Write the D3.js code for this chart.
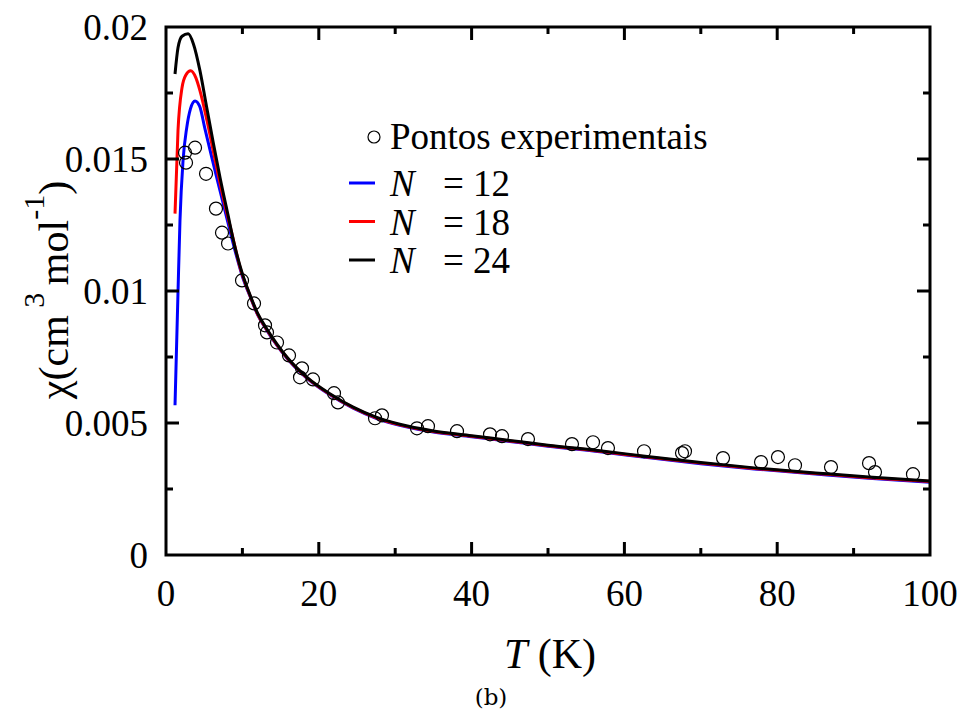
<!DOCTYPE html>
<html>
<head>
<meta charset="utf-8">
<script src="https://cdn.jsdelivr.net/npm/d3@7"></script>
<style>
  body { margin: 0; background: #fff; }
  svg text { font-family: "Liberation Serif", "Times New Roman", Times, serif; fill: #000; }
</style>
</head>
<body>
<svg id="chart" width="961" height="717"></svg>
<script>
// experimental points (T in K, chi in cm3/mol)
var expT = [2.49, 3.80, 2.62, 5.24, 6.54, 7.33, 8.12, 9.95, 11.52, 12.96, 13.22, 14.53, 16.10, 17.80, 17.54, 19.24,
  21.99, 22.51, 27.36, 28.27, 32.85, 34.29, 38.09, 42.41, 43.98, 47.38, 53.14, 55.89, 57.85, 62.57, 67.54, 67.93,
  72.91, 77.88, 80.10, 82.33, 87.04, 92.02, 92.80, 97.77];
var expChi = [0.01524, 0.01543, 0.01486, 0.01444, 0.01312, 0.01221, 0.01180, 0.01040, 0.00953, 0.00870, 0.00843,
  0.00805, 0.00756, 0.00707, 0.00673, 0.00665, 0.00613, 0.00578, 0.00518, 0.00529, 0.00480, 0.00488, 0.00469,
  0.00457, 0.00450, 0.00439, 0.00420, 0.00427, 0.00405, 0.00393, 0.00386, 0.00393, 0.00367, 0.00352, 0.00371,
  0.00340, 0.00333, 0.00348, 0.00314, 0.00306];

// model curves, N = 12 / 18 / 24
var T12 = [1.18, 1.57, 1.83, 2.23, 2.71, 3.2, 3.8, 4.4, 5.1, 6.0, 7.07, 8.1, 9.25, 10.0, 11.0, 12.0, 13.22, 14.5, 15.84, 18.46, 21.5, 24.5, 27.5, 30.6, 35, 40, 45, 50, 56.8, 63, 70, 77, 85, 92, 100];
var chi12 = [0.00567, 0.00994, 0.01267, 0.01494, 0.01618, 0.01690, 0.01720, 0.01700, 0.01614, 0.01505, 0.01380, 0.01260, 0.01130, 0.01055, 0.00980, 0.00910, 0.00850, 0.00795, 0.00745, 0.00669, 0.00606, 0.00556, 0.00518, 0.00491, 0.00466, 0.00448, 0.00430, 0.00412, 0.00391, 0.00369, 0.00346, 0.00326, 0.00307, 0.00291, 0.00276];
var T18 = [1.18, 1.57, 2.09, 2.6, 3.23, 3.9, 4.45, 5.37, 6.4, 7.6, 8.6, 9.69, 11.0, 12.0, 13.22, 14.5, 15.84, 18.46, 21.5, 24.5, 27.5, 30.6, 35, 40, 45, 50, 56.8, 63, 70, 77, 85, 92, 100];
var chi18 = [0.01293, 0.01607, 0.01769, 0.01818, 0.01834, 0.01808, 0.01758, 0.01645, 0.01500, 0.01340, 0.01220, 0.01090, 0.00982, 0.00912, 0.00852, 0.00797, 0.00747, 0.00671, 0.00608, 0.00558, 0.00520, 0.00493, 0.00468, 0.00450, 0.00432, 0.00414, 0.00393, 0.00371, 0.00348, 0.00328, 0.00309, 0.00293, 0.00278];
var T24 = [1.18, 1.57, 2.1, 2.9, 3.6, 4.45, 5.3, 6.2, 7.07, 8.1, 9.0, 10.0, 11.0, 12.0, 13.22, 14.5, 15.84, 18.46, 21.5, 24.5, 27.5, 30.6, 35, 40, 45, 50, 56.8, 63, 70, 77, 85, 92, 100];
var chi24 = [0.01822, 0.01921, 0.01965, 0.01974, 0.01935, 0.01834, 0.01700, 0.01560, 0.01430, 0.01290, 0.01170, 0.01065, 0.00985, 0.00915, 0.00855, 0.00800, 0.00749, 0.00673, 0.00610, 0.00560, 0.00522, 0.00495, 0.00470, 0.00452, 0.00434, 0.00416, 0.00395, 0.00373, 0.00350, 0.00330, 0.00311, 0.00295, 0.00280];

var seriesNames = ["12", "18", "24"];
var seriesColors = ["#0000ff", "#ff0000", "#000000"];
var xTicks = [0, 20, 40, 60, 80, 100];
var xMinor = [10, 30, 50, 70, 90];
var yTicks = [0, 0.005, 0.01, 0.015, 0.02];
var yTickLabels = ["0", "0.005", "0.01", "0.015", "0.02"];
var yMinor = [0.0025, 0.0075, 0.0125, 0.0175];

var svg = d3.select("#chart");
var x = d3.scaleLinear().domain([0, 100]).range([166, 930]);
var y = d3.scaleLinear().domain([0, 0.02]).range([555, 27]);

var series = [
  { name: seriesNames[0], color: seriesColors[0], pts: d3.zip(T12, chi12) },
  { name: seriesNames[1], color: seriesColors[1], pts: d3.zip(T18, chi18) },
  { name: seriesNames[2], color: seriesColors[2], pts: d3.zip(T24, chi24) }
];

var line = d3.line()
  .x(function (d) { return x(d[0]); })
  .y(function (d) { return y(d[1]); })
  .curve(d3.curveMonotoneX);

var plot = svg.append("g");
plot.selectAll("path.model")
  .data(series)
  .enter().append("path")
  .attr("class", "model")
  .attr("d", function (d) { return line(d.pts); })
  .attr("fill", "none")
  .attr("stroke", function (d) { return d.color; })
  .attr("stroke-width", 3);

plot.selectAll("circle.exp")
  .data(d3.zip(expT, expChi))
  .enter().append("circle")
  .attr("class", "exp")
  .attr("cx", function (d) { return x(d[0]); })
  .attr("cy", function (d) { return y(d[1]); })
  .attr("r", 6.5)
  .attr("fill", "none")
  .attr("stroke", "#000")
  .attr("stroke-width", 1.2);

// frame + inward ticks on all four sides
var axes = svg.append("g").attr("stroke", "#000").attr("stroke-width", 3);
axes.append("rect")
  .attr("x", x(0)).attr("y", y(0.02))
  .attr("width", x(100) - x(0)).attr("height", y(0) - y(0.02))
  .attr("fill", "none");

function hTicks(vals, len) {
  vals.forEach(function (v) {
    axes.append("line").attr("x1", x(v)).attr("x2", x(v)).attr("y1", y(0)).attr("y2", y(0) - len);
    axes.append("line").attr("x1", x(v)).attr("x2", x(v)).attr("y1", y(0.02)).attr("y2", y(0.02) + len);
  });
}
function vTicks(vals, len) {
  vals.forEach(function (v) {
    axes.append("line").attr("y1", y(v)).attr("y2", y(v)).attr("x1", x(0)).attr("x2", x(0) + len);
    axes.append("line").attr("y1", y(v)).attr("y2", y(v)).attr("x1", x(100)).attr("x2", x(100) - len);
  });
}
hTicks(xTicks.slice(1, -1), 13);
hTicks(xMinor, 7);
vTicks(yTicks.slice(1, -1), 13);
vTicks(yMinor, 7);

// tick labels
svg.append("g").selectAll("text")
  .data(xTicks)
  .enter().append("text")
  .attr("x", function (d) { return x(d); })
  .attr("y", 606)
  .attr("text-anchor", "middle")
  .style("font-size", "37px")
  .text(function (d) { return d; });

svg.append("g").selectAll("text")
  .data(yTicks)
  .enter().append("text")
  .attr("x", 148)
  .attr("y", function (d) { return y(d); })
  .attr("dy", "0.36em")
  .attr("text-anchor", "end")
  .style("font-size", "37px")
  .text(function (d, i) { return yTickLabels[i]; });

// axis titles
var xt = svg.append("text")
  .attr("x", 550).attr("y", 668)
  .attr("text-anchor", "middle")
  .style("font-size", "42px");
xt.append("tspan").style("font-style", "italic").text("T");
xt.append("tspan").text(" (K)");

var yt = svg.append("text")
  .attr("transform", "translate(68,290) rotate(-90)")
  .attr("text-anchor", "middle")
  .style("font-size", "42px");
yt.append("tspan").text("χ(cm");
yt.append("tspan").attr("dy", -24).style("font-size", "30px").text(" 3 ");
yt.append("tspan").attr("dy", 24).text(" mol");
yt.append("tspan").attr("dy", -24).style("font-size", "30px").text("-1");
yt.append("tspan").attr("dy", 24).text(")");

svg.append("text")
  .attr("x", 491).attr("y", 705)
  .attr("text-anchor", "middle")
  .style("font-family", "'DejaVu Serif', serif")
  .style("font-size", "23px")
  .text("(b)");

// legend
var leg = svg.append("g");
leg.append("circle").attr("cx", 374).attr("cy", 137).attr("r", 6)
  .attr("fill", "none").attr("stroke", "#000").attr("stroke-width", 1.2);
leg.append("text").attr("x", 390).attr("y", 149).style("font-size", "37px").text("Pontos experimentais");

var legRows = leg.selectAll("g.row")
  .data(series)
  .enter().append("g")
  .attr("class", "row")
  .attr("transform", function (d, i) { return "translate(0," + (183 + i * 38.5) + ")"; });
legRows.append("line")
  .attr("x1", 349).attr("x2", 375)
  .attr("stroke", function (d) { return d.color; })
  .attr("stroke-width", 3);
legRows.append("text")
  .attr("x", 390).attr("y", 13)
  .style("font-size", "37px")
  .style("font-style", "italic")
  .text("N");
legRows.append("text")
  .attr("x", 443).attr("y", 13)
  .style("font-size", "37px")
  .text(function (d) { return "= " + d.name; });
</script>
</body>
</html>
